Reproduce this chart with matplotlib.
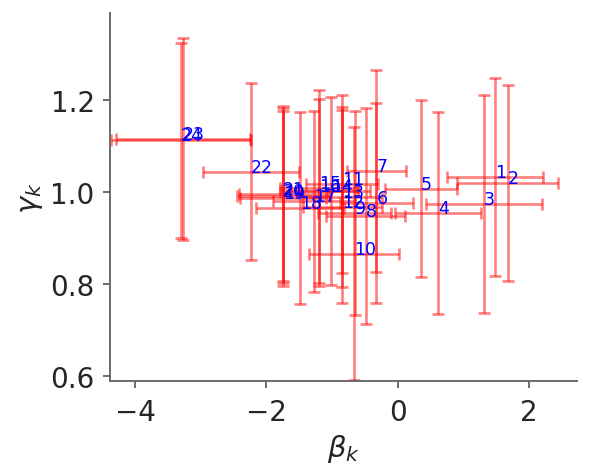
import numpy as np
import matplotlib
matplotlib.use("Agg")
import matplotlib.pyplot as plt

# per-component estimates
labels = [str(i) for i in range(1, 25)]
beta = [1.479, 1.672, 1.312, 0.613, 0.350, -0.324, -0.324, -0.486, -0.653, -0.660,
        -0.846, -0.846, -0.846, -1.018, -1.200, -1.200, -1.272, -1.489, -1.744, -1.744,
        -1.744, -2.237, -3.270, -3.300]
gamma = [1.032, 1.019, 0.974, 0.954, 1.0065, 0.976, 1.045, 0.947, 0.953, 0.865,
         1.0167, 0.967, 0.989, 1.0015, 1.009, 1.0025, 0.979, 0.964, 0.986, 0.991,
         0.996, 1.0435, 1.114, 1.112]
beta_err = [0.727, 0.770, 0.880, 0.650, 0.547, 0.556, 0.450, 0.600, 0.557, 0.684,
            0.545, 0.600, 0.600, 0.600, 0.600, 0.600, 0.620, 0.670, 0.650, 0.710,
            0.680, 0.733, 1.020, 1.060]
gamma_err = [0.215, 0.213, 0.237, 0.220, 0.193, 0.217, 0.219, 0.234, 0.222, 0.275,
             0.194, 0.210, 0.196, 0.204, 0.213, 0.200, 0.196, 0.209, 0.190, 0.190,
             0.190, 0.192, 0.220, 0.212]

fig = plt.figure(figsize=(5.92, 4.77), dpi=100)
ax = fig.add_axes([110 / 592, 1 - 382.3 / 477, 467 / 592, 368.3 / 477])

for i in range(len(labels)):
    ax.errorbar(beta[i], gamma[i], xerr=beta_err[i], yerr=gamma_err[i],
                fmt='none', ecolor='red', alpha=0.5, elinewidth=1.9,
                capsize=4, capthick=1.9)
for i in range(len(labels)):
    ax.text(beta[i], gamma[i], labels[i], color='blue', fontsize=12.5)

ax.set_xlim(-4.381, 2.730)
ax.set_ylim(0.5878, 1.3885)
ax.set_xticks([-4, -2, 0, 2])
ax.set_yticks([0.6, 0.8, 1.0, 1.2])

ax.spines['top'].set_visible(False)
ax.spines['right'].set_visible(False)
for s in ['left', 'bottom']:
    ax.spines[s].set_color('0.42')
    ax.spines[s].set_linewidth(1.4)
ax.tick_params(axis='both', colors='0.42', labelcolor='#262626',
               labelsize=20, length=5, width=1.4)
ax.tick_params(axis='x', pad=7)
ax.tick_params(axis='y', pad=6)

ax.set_xlabel(r'$\beta_k$', fontsize=21, color='#262626')
ax.set_ylabel(r'$\gamma_k$', fontsize=21, color='#262626')

plt.savefig('out.png', dpi=100)
